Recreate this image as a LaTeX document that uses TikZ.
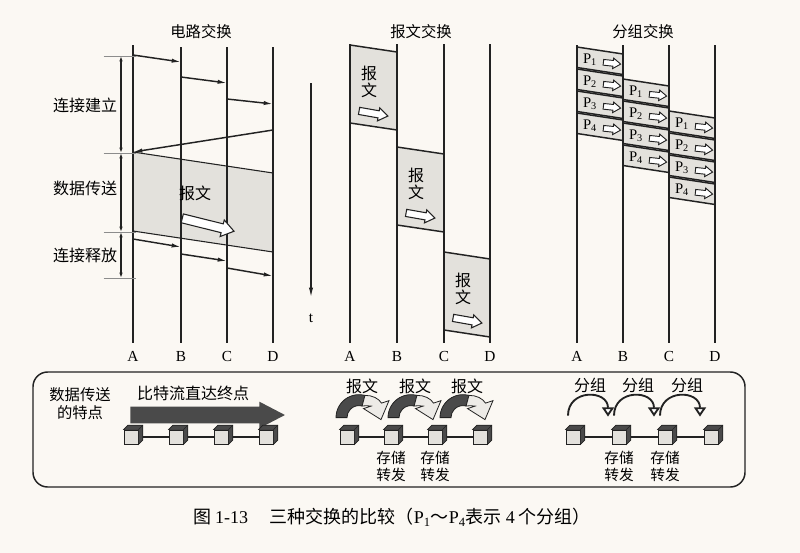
\documentclass[tikz,border=0pt]{standalone}
\usepackage{fontspec}
\setmainfont{Liberation Serif}
\newfontfamily\cjk{Noto Sans CJK SC}
\usepackage{tikz}
\usetikzlibrary{arrows.meta, shapes.arrows, calc, positioning}
\definecolor{fondo}{HTML}{FBF8F3}
\definecolor{tinta}{HTML}{222222}
\definecolor{grisClaro}{HTML}{E3E1DC}
\definecolor{grisMedio}{HTML}{EDEBE7}
\definecolor{grisOscuro}{HTML}{4A4A4A}
\newcommand{\lat}[1]{{\rmfamily #1}}
\newcommand{\cubo}[3]{%
  \node[cubo] (#1) at (#2,#3) {};
  \filldraw[fill=grisOscuro, draw=tinta, line width=0.5pt] (#1.north west) -- ++(3.3pt,3.3pt) -- ([shift={(3.3pt,3.3pt)}]#1.north east) -- ([shift={(3.3pt,3.3pt)}]#1.south east) -- (#1.south east) -- (#1.north east) -- cycle;
  \draw[tinta, line width=0.5pt] (#1.north east) -- ++(3.3pt,3.3pt);
}

\begin{document}
\begin{tikzpicture}[x=0.75pt, y=-0.75pt,
    linea/.style={draw=tinta, line width=1.1pt},
    fina/.style={draw=tinta, line width=0.8pt},
    flecha/.style={-{Latex[length=7pt, width=3.2pt]}, tinta, line width=1.1pt},
    doble/.style={{Latex[length=4pt, width=2.6pt]}-{Latex[length=4pt, width=2.6pt]}, tinta, line width=0.9pt},
    titulo/.style={font=\cjk\fontsize{11.5}{13}\selectfont, inner sep=0pt},
    texto/.style={font=\cjk\fontsize{12}{12.6}\selectfont, align=center, inner sep=0pt},
    chico/.style={font=\cjk\fontsize{11}{12.8}\selectfont, align=center, inner sep=0pt},
    letra/.style={font=\fontsize{11.5}{13}\selectfont, inner sep=0pt},
    hueca/.style={single arrow, draw=tinta, fill=white, line width=0.8pt, inner xsep=0pt, single arrow tip angle=70},
    cubo/.style={draw=tinta, fill=grisClaro, line width=0.6pt, minimum size=10.5pt, inner sep=0pt},
    arco/.style={tinta, line width=1.4pt, -{Triangle[length=7pt, width=9pt, fill=white]}}
]
    \fill[fondo] (0,0) rectangle (800,553);
    \useasboundingbox (0,0) rectangle (800,553);

    \foreach \n/\x/\ya/\l in {cA/133/45/A, cB/181/47/B, cC/227/47/C, cD/273/47/D,
                              mA/350/44/A, mB/397/44/B, mC/444/44/C, mD/490/44/D,
                              gA/577/45/A, gB/623/45/B, gC/669/45/C, gD/715/45/D} {
        \coordinate (\n-top) at (\x,\ya);
        \coordinate (\n-bot) at (\x,343);
        \node[letra] (\n-lab) at (\x,356) {\l};
    }

    \node[titulo] (tc) at (201,32) {电路交换};
    \node[titulo] (tm) at (421,32) {报文交换};
    \node[titulo] (tg) at (643,32) {分组交换};

    \fill[grisClaro] (cA-top |- 0,152) -- (cD-top |- 0,173) -- (cD-top |- 0,252) -- (cA-top |- 0,231) -- cycle;
    \draw[fina] (cA-top |- 0,152) -- (cD-top |- 0,173);
    \draw[fina] (cA-top |- 0,231) -- (cD-top |- 0,252);

    \foreach \izq/\der/\ya [count=\j] in {mA/mB/45, mB/mC/147, mC/mD/252} {
        \fill[grisClaro] (\izq-top |- 0,\ya) -- (\der-top |- 0,\ya+7) -- (\der-top |- 0,\ya+85) -- (\izq-top |- 0,\ya+78) -- cycle;
        \draw[linea] (\izq-top |- 0,\ya) -- (\der-top |- 0,\ya+7);
        \draw[linea] (\izq-top |- 0,\ya+78) -- (\der-top |- 0,\ya+85);
        \node[texto] (msgM\j) at ($(\izq-top |- 0,\ya)+(19,37)$) {报\\文};
        \node[hueca, minimum height=22pt, inner ysep=2.3pt, single arrow head extend=2.3pt, rotate=-10] (flM\j) at ($(\izq-top |- 0,\ya)+(21,68)$) {};
    }

    \foreach \izq/\der/\ya [count=\j] in {gA/gB/47, gB/gC/79, gC/gD/111} {
        \foreach \i in {1,...,4} {
            \pgfmathsetmacro{\yt}{\ya+22*(\i-1)}
            \fill[grisClaro] (\izq-top |- 0,\yt) -- (\der-top |- 0,\yt+7) -- (\der-top |- 0,\yt+27.5) -- (\izq-top |- 0,\yt+20.5) -- cycle;
            \draw[linea] (\izq-top |- 0,\yt) -- (\der-top |- 0,\yt+7);
            \draw[linea] (\izq-top |- 0,\yt+20.5) -- (\der-top |- 0,\yt+27.5);
            \node[letra, font=\fontsize{11}{12}\selectfont] (p\j\i) at ($(\izq-top |- 0,\yt)+(13,13)$) {P\textsubscript{\i}};
            \node[hueca, minimum height=13pt, inner ysep=1.8pt, single arrow head extend=1.8pt, line width=0.7pt, rotate=-6] (f\j\i) at ($(\izq-top |- 0,\yt)+(33,16)$) {};
        }
    }

    \foreach \n in {cA,cB,cC,cD,mA,mB,mC,mD,gA,gB,gC,gD}
        \draw[linea] (\n-top) -- (\n-bot);

    \foreach \a/\b/\ya/\yb in {cA/cB/55/62, cB/cC/77/83, cC/cD/99/104, cD/cA/130/152,
                               cA/cB/239/247, cB/cC/254/261, cC/cD/268/276}
        \draw[flecha] (\a-top |- 0,\ya) -- (\b-top |- 0,\yb);

    \node[texto] (msgC) at (195,193) {报文};
    \node[hueca, minimum height=40pt, inner ysep=3pt, single arrow head extend=3pt, rotate=-14] (flC) at (205,224) {};

    \foreach \ya [count=\k] in {56,153,232,278} {
        \coordinate (hito\k) at (121,\ya);
        \draw[black!45, line width=0.6pt] ([xshift=-13]hito\k) -- ([xshift=11]hito\k);
    }
    \draw[doble] (hito1) -- (hito2);
    \draw[doble] (hito2) -- (hito3);
    \draw[doble] (hito3) -- (hito4);
    \node[texto] (fase1) at (85,105) {连接建立};
    \node[texto] (fase2) at (85,188) {数据传送};
    \node[texto] (fase3) at (85,255) {连接释放};

    \coordinate (t0) at (311,83);
    \coordinate (t1) at (311,297);
    \draw[flecha, line width=0.9pt] (t0) -- (t1);
    \node[letra] (tt) at (311,318) {t};

    \draw[linea, rounded corners=11pt] (33,372) rectangle (745,487);
    \node[chico, font=\cjk\fontsize{11.5}{13.5}\selectfont] (rasgo) at (80,404) {数据传送\\的特点};
    \node[texto] (bitsT) at (193,393) {比特流直达终点};
    \node[single arrow, fill=grisOscuro, inner xsep=0pt, inner ysep=6pt, minimum height=116pt, single arrow head extend=3.75pt, single arrow tip angle=55, anchor=tail] (bits) at (130,415) {};

    \foreach \x [count=\k] in {131,176,221,266} {\cubo{cuboC\k}{\x}{437}}
    \foreach \x [count=\k] in {347,391,435,480} {\cubo{cuboM\k}{\x}{437}}
    \foreach \x [count=\k] in {573,619,665,711} {\cubo{cuboG\k}{\x}{437}}
    \foreach \p in {C,M,G} {
        \foreach \a/\b in {1/2,2/3,3/4} {
            \draw[fina, shorten <=3.3pt] (cubo\p\a) -- (cubo\p\b);
        }
    }

    \foreach \k/\dx in {1/12, 2/20, 3/28} {
        \begin{scope}[shift={($(cuboM\k.north)+(\dx,-12)$)}, y=0.75pt]
            \filldraw[draw=tinta, fill=grisOscuro, line width=0.6pt] (180:23) arc[start angle=180, end angle=75, radius=23] -- (75:12) arc[start angle=75, end angle=180, radius=12] -- cycle;
            \filldraw[draw=tinta, fill=grisMedio, line width=0.6pt] (75:23) .. controls (13,22.5) and (20,19) .. (22.5,14.5) -- (30,17) -- (22,-2) -- (4.5,9) -- (12,11.5) .. controls (9,12) and (6,12) .. (75:12) -- cycle;
        \end{scope}
    }
    \foreach \x [count=\k] in {362,415,467} {\node[texto] (lblM\k) at (\x,386) {报文};}

    \foreach \a/\b in {1/2,2/3,3/4} {
        \draw[arco] ([shift={(-5,-14)}]cuboG\a.north) .. controls +(0,-27) and +(0,-27) .. ([shift={(-11,-13)}]cuboG\b.north);
    }
    \foreach \x [count=\k] in {590,638,687} {\node[texto] (lblG\k) at (\x,385) {分组};}

    \node[chico, below=5pt of cuboM2] (sfM2) {存储\\转发};
    \node[chico, below=5pt of cuboM3] (sfM3) {存储\\转发};
    \node[chico, below=5pt of cuboG2] (sfG2) {存储\\转发};
    \node[chico, below=5pt of cuboG3] (sfG3) {存储\\转发};

    \node[font=\cjk\fontsize{13.5}{15}\selectfont, inner sep=0pt] (pie) at (392,517) {图 \lat{1-13}\hspace{1.2em}三种交换的比较（\lat{P\textsubscript{1}}～\lat{P\textsubscript{4}}表示 \lat{4} 个分组）};
\end{tikzpicture}
\end{document}
